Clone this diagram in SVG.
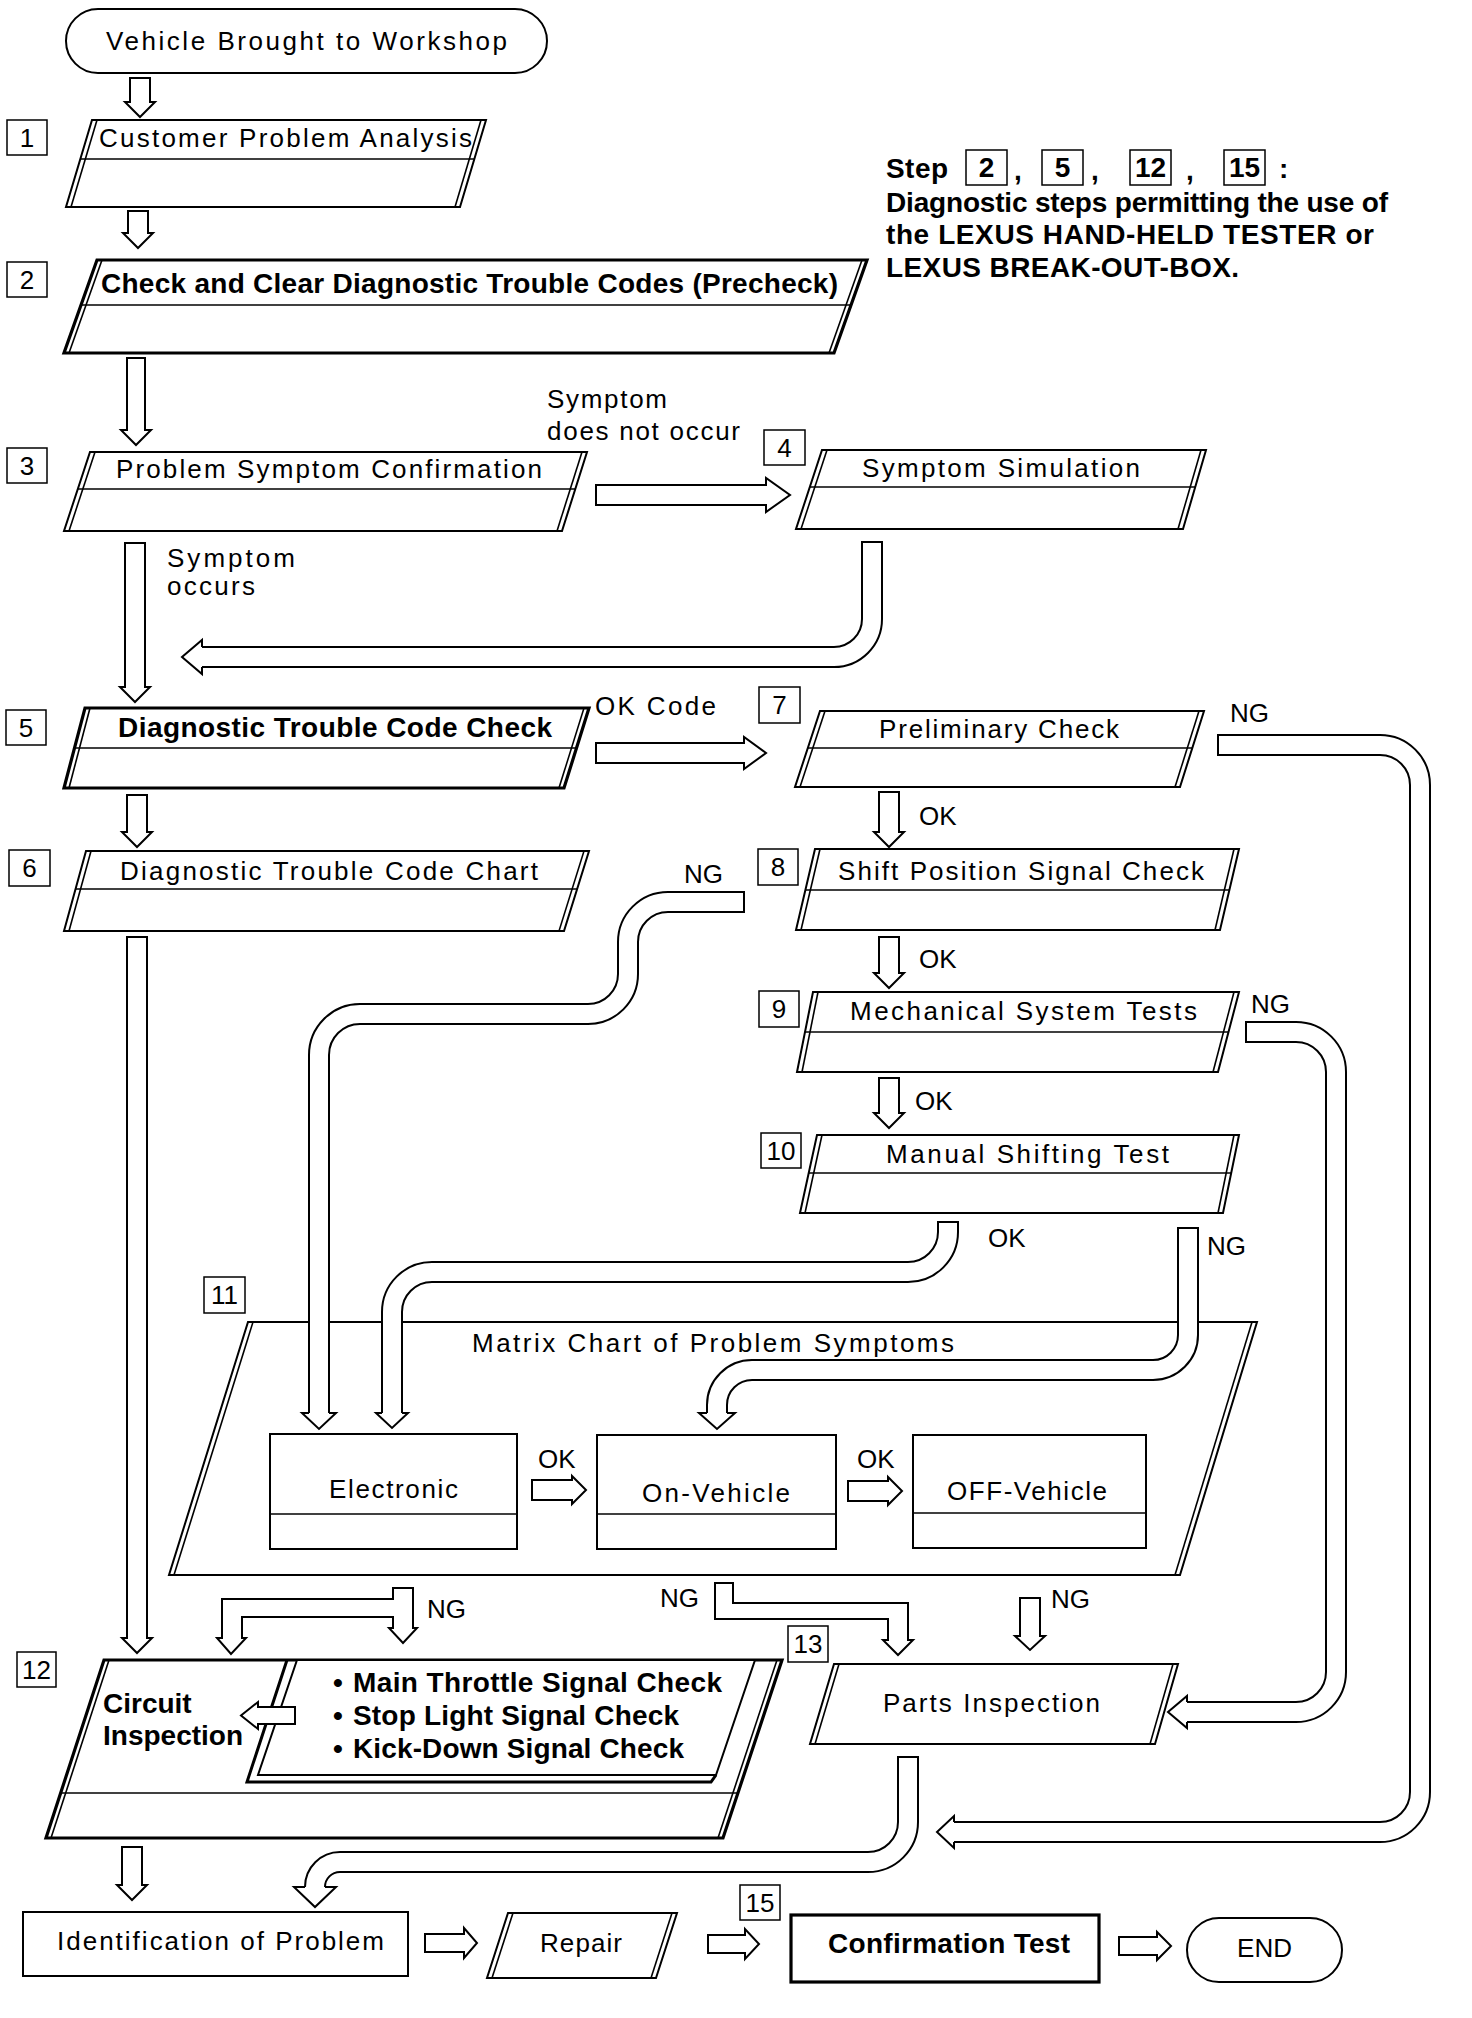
<svg xmlns="http://www.w3.org/2000/svg" width="1472" height="2018" viewBox="0 0 1472 2018">
<style>
.t{font-family:"Liberation Sans",Arial,Helvetica,sans-serif;font-size:26px;fill:#000}
.b{font-weight:bold;font-size:28px}
.m{text-anchor:middle}
.s{stroke:#000;stroke-width:2;fill:#fff}
.bd{stroke-width:3.2}
.ln{stroke:#000;stroke-width:1.6;fill:none}
.nb{stroke:#000;stroke-width:1.5;fill:#fff}
.po{fill:none;stroke:#000;stroke-width:22}
.pi{fill:none;stroke:#fff;stroke-width:18}
.cap{stroke:#000;stroke-width:2}
.arr{fill:#fff;stroke:#000;stroke-width:2;stroke-linejoin:miter}
</style>
<rect width="1472" height="2018" fill="#fff"/>

<g id="n-start">
<rect x="66" y="9" width="481" height="64" rx="32" class="s"/>
<text class="t" x="106" y="50" font-size="25" textLength="401">Vehicle Brought to Workshop</text>
</g>

<g id="n1">
<rect x="7" y="120" width="40" height="35" class="nb"/><text class="t m" x="27" y="147">1</text>
<polygon class="s" points="92,120 486,120 460,207 66,207"/>
<line class="ln" x1="97" y1="120" x2="71" y2="207"/><line class="ln" x1="481" y1="120" x2="455" y2="207"/>
<line class="ln" x1="80" y1="159" x2="474" y2="159"/>
<text class="t" x="99" y="147" textLength="373">Customer Problem Analysis</text>
</g>

<g id="n2">
<rect x="7" y="262" width="40" height="35" class="nb"/><text class="t m" x="27" y="289">2</text>
<polygon class="s bd" points="97,260 867,260 834,353 64,353"/>
<line class="ln" x1="102" y1="260" x2="69" y2="353"/><line class="ln" x1="862" y1="260" x2="829" y2="353"/>
<line class="ln" x1="81" y1="305" x2="851" y2="305"/>
<text class="t b" x="101" y="293" textLength="737">Check and Clear Diagnostic Trouble Codes (Precheck)</text>
</g>

<g id="note">
<text class="t b" x="886" y="178" font-size="25" textLength="62">Step</text>
<rect x="966" y="150" width="41" height="35" class="nb"/><text class="t b m" x="986.5" y="177" font-size="25">2</text>
<text class="t b" x="1014" y="180" font-size="25">,</text>
<rect x="1042" y="150" width="41" height="35" class="nb"/><text class="t b m" x="1062.5" y="177" font-size="25">5</text>
<text class="t b" x="1091" y="180" font-size="25">,</text>
<rect x="1130" y="150" width="41" height="35" class="nb"/><text class="t b m" x="1150.5" y="177" font-size="25">12</text>
<text class="t b" x="1186" y="180" font-size="25">,</text>
<rect x="1224" y="150" width="41" height="35" class="nb"/><text class="t b m" x="1244.5" y="177" font-size="25">15</text>
<text class="t b" x="1279" y="178" font-size="25">:</text>
<text class="t b" x="886" y="212" font-size="25" textLength="502">Diagnostic steps permitting the use of</text>
<text class="t b" x="886" y="244" font-size="25" textLength="488">the LEXUS HAND-HELD TESTER or</text>
<text class="t b" x="886" y="277" font-size="25" textLength="353">LEXUS BREAK-OUT-BOX.</text>
</g>

<g id="n3">
<rect x="7" y="448" width="40" height="35" class="nb"/><text class="t m" x="27" y="475">3</text>
<polygon class="s" points="90,452 587,452 562,531 64,531"/>
<line class="ln" x1="95" y1="452" x2="69" y2="531"/><line class="ln" x1="582" y1="452" x2="557" y2="531"/>
<line class="ln" x1="78" y1="489" x2="575" y2="489"/>
<text class="t" x="116" y="478" textLength="426">Problem Symptom Confirmation</text>
</g>

<g id="n4">
<rect x="764" y="430" width="41" height="35" class="nb"/><text class="t m" x="784.5" y="457">4</text>
<polygon class="s" points="822,450 1206,450 1183,529 796,529"/>
<line class="ln" x1="827" y1="450" x2="801" y2="529"/><line class="ln" x1="1201" y1="450" x2="1178" y2="529"/>
<line class="ln" x1="810" y1="487" x2="1195" y2="487"/>
<text class="t" x="862" y="477" textLength="278">Symptom Simulation</text>
</g>

<g id="n5">
<rect x="6" y="710" width="40" height="35" class="nb"/><text class="t m" x="26" y="737">5</text>
<polygon class="s bd" points="85,708 589,708 564,788 64,788"/>
<line class="ln" x1="90" y1="708" x2="69" y2="788"/><line class="ln" x1="584" y1="708" x2="559" y2="788"/>
<line class="ln" x1="74.5" y1="748" x2="576.5" y2="748"/>
<text class="t b" x="118" y="737" textLength="434">Diagnostic Trouble Code Check</text>
</g>

<g id="n6">
<rect x="9" y="850" width="41" height="36" class="nb"/><text class="t m" x="29.5" y="877">6</text>
<polygon class="s" points="86,851 589,851 564,931 64,931"/>
<line class="ln" x1="91" y1="851" x2="69" y2="931"/><line class="ln" x1="584" y1="851" x2="559" y2="931"/>
<line class="ln" x1="75.6" y1="889" x2="577" y2="889"/>
<text class="t" x="120" y="880" textLength="418">Diagnostic Trouble Code Chart</text>
</g>

<g id="n7">
<rect x="759" y="687" width="41" height="36" class="nb"/><text class="t m" x="779.5" y="714">7</text>
<polygon class="s" points="820,711 1204,711 1180,787 795,787"/>
<line class="ln" x1="825" y1="711" x2="800" y2="787"/><line class="ln" x1="1199" y1="711" x2="1175" y2="787"/>
<line class="ln" x1="808" y1="748" x2="1192" y2="748"/>
<text class="t" x="879" y="738" textLength="240">Preliminary Check</text>
</g>

<g id="n8">
<rect x="758" y="849" width="40" height="36" class="nb"/><text class="t m" x="778" y="876">8</text>
<polygon class="s" points="815,849 1239,849 1220,930 796,930"/>
<line class="ln" x1="820" y1="849" x2="801" y2="930"/><line class="ln" x1="1234" y1="849" x2="1215" y2="930"/>
<line class="ln" x1="805" y1="890" x2="1229" y2="890"/>
<text class="t" x="838" y="880" textLength="366">Shift Position Signal Check</text>
</g>

<g id="n9">
<rect x="759" y="991" width="40" height="36" class="nb"/><text class="t m" x="779" y="1018">9</text>
<polygon class="s" points="813,992 1239,992 1218,1072 797,1072"/>
<line class="ln" x1="818" y1="992" x2="802" y2="1072"/><line class="ln" x1="1234" y1="992" x2="1213" y2="1072"/>
<line class="ln" x1="805" y1="1032" x2="1228.5" y2="1032"/>
<text class="t" x="850" y="1020" textLength="347">Mechanical System Tests</text>
</g>

<g id="n10">
<rect x="761" y="1133" width="40" height="35" class="nb"/><text class="t m" x="781" y="1160">10</text>
<polygon class="s" points="817,1135 1239,1135 1223,1213 800,1213"/>
<line class="ln" x1="822" y1="1135" x2="805" y2="1213"/><line class="ln" x1="1234" y1="1135" x2="1218" y2="1213"/>
<line class="ln" x1="808.7" y1="1173" x2="1231" y2="1173"/>
<text class="t" x="886" y="1163" textLength="283">Manual Shifting Test</text>
</g>

<g id="n11">
<rect x="204" y="1277" width="41" height="36" class="nb"/><text class="t m" x="224.5" y="1304">11</text>
<polygon class="s" points="248,1322 1257,1322 1180,1575 169,1575"/>
<line class="ln" x1="253" y1="1322" x2="174" y2="1575"/><line class="ln" x1="1252" y1="1322" x2="1175" y2="1575"/>
<text class="t" x="472" y="1352" textLength="482">Matrix Chart of Problem Symptoms</text>
</g>

<g id="n-electronic">
<rect x="270" y="1434" width="247" height="115" class="s"/>
<line class="ln" x1="270" y1="1514" x2="517" y2="1514"/>
<text class="t" x="329" y="1498" textLength="129">Electronic</text>
</g>

<g id="n-onvehicle">
<rect x="597" y="1435" width="239" height="114" class="s"/>
<line class="ln" x1="597" y1="1514" x2="836" y2="1514"/>
<text class="t" x="642" y="1502" textLength="148">On-Vehicle</text>
</g>

<g id="n-offvehicle">
<rect x="913" y="1435" width="233" height="113" class="s"/>
<line class="ln" x1="913" y1="1513" x2="1146" y2="1513"/>
<text class="t" x="947" y="1500" textLength="160">OFF-Vehicle</text>
</g>

<g id="n12">
<rect x="17" y="1652" width="39" height="35" class="nb"/><text class="t m" x="36.5" y="1679">12</text>
<polygon class="s bd" points="104,1660 782,1660 723,1838 46,1838"/>
<line class="ln" x1="109" y1="1660" x2="51" y2="1838"/><line class="ln" x1="777" y1="1660" x2="718" y2="1838"/>
<line class="ln" x1="60.7" y1="1793" x2="738" y2="1793"/>
<text class="t b" x="103" y="1713" font-size="27">Circuit</text>
<text class="t b" x="103" y="1745" font-size="27">Inspection</text>
<polyline points="287,1660 247,1782 711,1782 716,1775" fill="none" stroke="#000" stroke-width="3"/>
<polygon class="s" stroke-width="3" points="297,1660 755,1660 716,1775 258,1775"/>
<text class="t b" x="333" y="1692">•</text>
<text class="t b" x="353" y="1692" textLength="369">Main Throttle Signal Check</text>
<text class="t b" x="333" y="1725">•</text>
<text class="t b" x="353" y="1725" textLength="326">Stop Light Signal Check</text>
<text class="t b" x="333" y="1758">•</text>
<text class="t b" x="353" y="1758" textLength="331">Kick-Down Signal Check</text>
</g>

<g id="n13">
<rect x="788" y="1626" width="40" height="36" class="nb"/><text class="t m" x="808" y="1653">13</text>
<polygon class="s" points="834,1664 1178,1664 1155,1744 810,1744"/>
<line class="ln" x1="839" y1="1664" x2="815" y2="1744"/><line class="ln" x1="1173" y1="1664" x2="1150" y2="1744"/>
<text class="t" x="883" y="1712" textLength="217">Parts Inspection</text>
</g>

<g id="n-identification">
<rect x="23" y="1912" width="385" height="64" class="s"/>
<text class="t" x="57" y="1950" textLength="327">Identification of Problem</text>
</g>

<g id="n-repair">
<polygon class="s" points="508,1913 677,1913 656,1978 487,1978"/>
<line class="ln" x1="513" y1="1913" x2="492" y2="1978"/><line class="ln" x1="672" y1="1913" x2="651" y2="1978"/>
<text class="t" x="540" y="1952" textLength="82">Repair</text>
</g>

<g id="n15">
<rect x="740" y="1885" width="40" height="35" class="nb"/><text class="t m" x="760" y="1912">15</text>
<rect x="791" y="1915" width="308" height="67" class="s bd"/>
<text class="t b" x="828" y="1953" textLength="242">Confirmation Test</text>
</g>

<g id="n-end">
<rect x="1187" y="1918" width="155" height="64" rx="32" class="s"/>
<text class="t m" x="1264.5" y="1957" font-size="25">END</text>
</g>

<g id="connectors">
<!-- straight block arrows -->
<path class="arr" d="M130,78 H150 V102 H155 L140,117 L125,102 H130 Z"/>
<path class="arr" d="M128,211 H148 V233 H153 L138,248 L123,233 H128 Z"/>
<path class="arr" d="M127,358 H145 V430 H151 L136,445 L121,430 H127 Z"/>
<path class="arr" d="M125,543 H145 V687 H150 L135,702 L120,687 H125 Z"/>
<path class="arr" d="M127,795 H147 V832 H152 L137,847 L122,832 H127 Z"/>
<path class="arr" d="M127,937 H147 V1638 H152 L137,1653 L122,1638 H127 Z"/>
<path class="arr" d="M879,792 H899 V832 H904 L889,847 L874,832 H879 Z"/>
<path class="arr" d="M879,937 H899 V973 H904 L889,988 L874,973 H879 Z"/>
<path class="arr" d="M879,1078 H899 V1113 H904 L889,1128 L874,1113 H879 Z"/>
<path class="arr" d="M122,1847 H142 V1885 H147 L132,1900 L117,1885 H122 Z"/>
<path class="arr" d="M1020,1598 H1040 V1636 H1045 L1030,1650 L1015,1636 H1020 Z"/>
<path class="arr" d="M596,485 H766 V478 L790,495 L766,512 V505 H596 Z"/>
<path class="arr" d="M596,743 H744 V737 L766,753 L744,769 V763 H596 Z"/>
<path class="arr" d="M532,1480 H572 V1476 L586,1490 L572,1504 V1500 H532 Z"/>
<path class="arr" d="M848,1481 H888 V1477 L902,1491 L888,1505 V1501 H848 Z"/>
<path class="arr" d="M425,1934 H464 V1928 L477,1943 L464,1958 V1952 H425 Z"/>
<path class="arr" d="M708,1935 H745 V1929 L759,1944 L745,1959 V1953 H708 Z"/>
<path class="arr" d="M1119,1937 H1157 V1932 L1171,1946 L1157,1960 V1955 H1119 Z"/>
<path class="arr" d="M295,1707 H258 V1702 L241,1715.5 L258,1729 V1724 H295 Z"/>
<!-- branch arrows -->
<path class="arr" d="M393,1588 H413 V1628 H417 L403,1643 L389,1628 H393 V1617 H242 V1638 H246 L231,1654 L217,1638 H222 V1599 H393 Z"/>
<path class="arr" d="M715,1583 H733 V1603 H908 V1640 H913 L898,1655 L883,1640 H888 V1619 H715 Z"/>
<!-- curved pipes -->
<g>
<path class="po" d="M872,542 V619 A38,38 0 0 1 834,657 H202"/>
<path class="pi" d="M872,542 V619 A38,38 0 0 1 834,657 H202"/>
<line class="cap" x1="861" y1="542" x2="883" y2="542"/>
<path class="arr" d="M202,647 V640 L182,657 L202,674 V667"/>
</g>
<g>
<path class="po" d="M744,902 H668 A40,40 0 0 0 628,942 V974 A40,40 0 0 1 588,1014 H360 A41,41 0 0 0 319,1055 V1413"/>
<path class="pi" d="M744,902 H668 A40,40 0 0 0 628,942 V974 A40,40 0 0 1 588,1014 H360 A41,41 0 0 0 319,1055 V1413"/>
<line class="cap" x1="744" y1="891" x2="744" y2="913"/>
<path class="arr" d="M309,1413 H302 L319,1429 L336,1413 H329"/>
</g>
<g>
<path class="po" d="M948,1222 V1232 A40,40 0 0 1 908,1272 H432 A40,40 0 0 0 392,1312 V1413"/>
<path class="pi" d="M948,1222 V1232 A40,40 0 0 1 908,1272 H432 A40,40 0 0 0 392,1312 V1413"/>
<line class="cap" x1="937" y1="1222" x2="959" y2="1222"/>
<path class="arr" d="M382,1413 H376 L392,1428 L408,1413 H402"/>
</g>
<g>
<path class="po" d="M1188,1228 V1335 A35,35 0 0 1 1153,1370 H752 A35,35 0 0 0 717,1405 V1413"/>
<path class="pi" d="M1188,1228 V1335 A35,35 0 0 1 1153,1370 H752 A35,35 0 0 0 717,1405 V1413"/>
<line class="cap" x1="1177" y1="1228" x2="1199" y2="1228"/>
<path class="arr" d="M707,1413 H699 L717,1429 L735,1413 H727"/>
</g>
<g>
<path class="po" d="M1218,745 H1380 A40,40 0 0 1 1420,785 V1792 A40,40 0 0 1 1380,1832 H954"/>
<path class="pi" d="M1218,745 H1380 A40,40 0 0 1 1420,785 V1792 A40,40 0 0 1 1380,1832 H954"/>
<line class="cap" x1="1218" y1="734" x2="1218" y2="756"/>
<path class="arr" d="M954,1822 V1816 L937,1832 L954,1848 V1842"/>
</g>
<g>
<path class="po" d="M1246,1032 H1296 A40,40 0 0 1 1336,1072 V1672 A40,40 0 0 1 1296,1712 H1187"/>
<path class="pi" d="M1246,1032 H1296 A40,40 0 0 1 1336,1072 V1672 A40,40 0 0 1 1296,1712 H1187"/>
<line class="cap" x1="1246" y1="1021" x2="1246" y2="1043"/>
<path class="arr" d="M1187,1702 V1696 L1168,1712 L1187,1728 V1722"/>
</g>
<g>
<path class="po" d="M908,1757 V1822 A40,40 0 0 1 868,1862 H340 A25,25 0 0 0 315,1887"/>
<path class="pi" d="M908,1757 V1822 A40,40 0 0 1 868,1862 H340 A25,25 0 0 0 315,1887"/>
<line class="cap" x1="897" y1="1757" x2="919" y2="1757"/>
<path class="arr" d="M305,1887 H294 L315,1907 L336,1887 H325"/>
</g>
<!-- connector labels -->
<text class="t" x="547" y="408" font-size="25" textLength="120">Symptom</text>
<text class="t" x="547" y="440" font-size="25" textLength="193">does not occur</text>
<text class="t" x="167" y="567" font-size="25" textLength="128">Symptom</text>
<text class="t" x="167" y="595" font-size="25" textLength="88">occurs</text>
<text class="t" x="595" y="715" textLength="121">OK Code</text>
<text class="t" x="684" y="883">NG</text>
<text class="t" x="1230" y="722">NG</text>
<text class="t" x="919" y="825">OK</text>
<text class="t" x="919" y="968">OK</text>
<text class="t" x="1251" y="1013">NG</text>
<text class="t" x="915" y="1110">OK</text>
<text class="t" x="988" y="1247">OK</text>
<text class="t" x="1207" y="1255">NG</text>
<text class="t" x="538" y="1468">OK</text>
<text class="t" x="857" y="1468">OK</text>
<text class="t" x="427" y="1618">NG</text>
<text class="t" x="660" y="1607">NG</text>
<text class="t" x="1051" y="1608">NG</text>
</g>
</svg>
